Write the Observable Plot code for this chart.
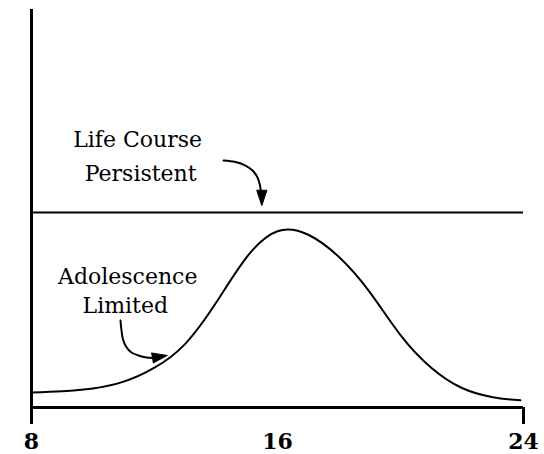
<!DOCTYPE html>
<html>
<head>
<meta charset="utf-8">
<script src="https://cdn.jsdelivr.net/npm/d3@7"></script>
<script src="https://cdn.jsdelivr.net/npm/@observablehq/plot@0.6"></script>
<style>
  html, body { margin: 0; padding: 0; background: white; }
</style>
</head>
<body>
<div id="chart"></div>
<script>
// Age (x) and offending rate (y) of the adolescence-limited curve
const ages = [8, 9, 10, 11, 12, 13, 14, 15, 16, 17, 18, 19, 20, 21, 22, 23, 23.9];
const rates = [3.8, 4.1, 4.8, 6.5, 10, 16, 26.3, 37.8, 44.3, 43.4, 37.8, 29.0, 18.2, 10.0, 4.9, 2.6, 1.8];

// Life-course-persistent level
const persistentLevel = 49;

// Axis ticks
const tickMarks = [8, 24];
const tickLabels = [8, 16, 24];

// Annotation text
const labelText = ["Life Course", "Persistent", "Adolescence", "Limited"];
const labelX = [11.45, 11.55, 11.13, 11.05];
const labelY = [67.1, 58.8, 32.9, 25.4];

// Annotation arrows (shafts)
const arrow1X = [14.244, 14.634, 14.959, 15.187, 15.350, 15.431, 15.463];
const arrow1Y = [62.06, 61.68, 60.80, 59.55, 57.79, 55.78, 53.77];
const arrow2X = [10.894, 10.927, 10.976, 11.073, 11.252, 11.480, 11.740, 11.935];
const arrow2Y = [21.86, 19.35, 17.09, 15.33, 13.82, 13.07, 12.56, 12.44];

// Arrowheads: base position and direction
const headX = [15.49, 11.935];
const headY = [54.5, 12.44];
const headAngle = [180, 80];

const curve = ages.map((a, i) => ({age: a, rate: rates[i]}));
const shaft1 = arrow1X.map((x, i) => ({x, y: arrow1Y[i]}));
const shaft2 = arrow2X.map((x, i) => ({x, y: arrow2Y[i]}));
const heads = headX.map((x, i) => ({x, y: headY[i], a: headAngle[i]}));

const triangle = {
  draw(context, l, r) {
    context.moveTo(-5, 0);
    context.lineTo(0, -l);
    context.lineTo(5, 0);
    context.closePath();
  }
};

const chart = Plot.plot({
  width: 544,
  height: 454,
  marginLeft: 31,
  marginRight: 21,
  marginTop: 9,
  marginBottom: 47,
  x: {domain: [8, 24], axis: null},
  y: {domain: [0, 100], axis: null},
  style: {fontFamily: "DejaVu Serif", background: "white", color: "black"},
  marks: [
    Plot.ruleX([8], {y1: 0, y2: 100, strokeWidth: 3}),
    Plot.ruleY([0], {x1: 8, x2: 24, strokeWidth: 3}),
    Plot.ruleY([persistentLevel], {x1: 8, x2: 24, strokeWidth: 2}),
    Plot.axisX(tickMarks, {tickSize: 17, strokeWidth: 3, tickFormat: () => "", label: null}),
    Plot.axisX(tickLabels, {tickSize: 0, tickPadding: 26, fontSize: 22, fontWeight: "bold", label: null}),
    Plot.line(curve, {x: "age", y: "rate", curve: "natural", strokeWidth: 2}),
    Plot.line(shaft1, {x: "x", y: "y", curve: "catmull-rom", strokeWidth: 2}),
    Plot.line(shaft2, {x: "x", y: "y", curve: "catmull-rom", strokeWidth: 2}),
    Plot.vector(heads, {x: "x", y: "y", rotate: "a", length: 15, anchor: "start", shape: triangle, fill: "black", stroke: "black", strokeWidth: 1}),
    Plot.text(labelText, {x: labelX, y: labelY, text: d => d, fontSize: 22, lineAnchor: "middle"})
  ]
});
document.getElementById("chart").appendChild(chart);
</script>
</body>
</html>
